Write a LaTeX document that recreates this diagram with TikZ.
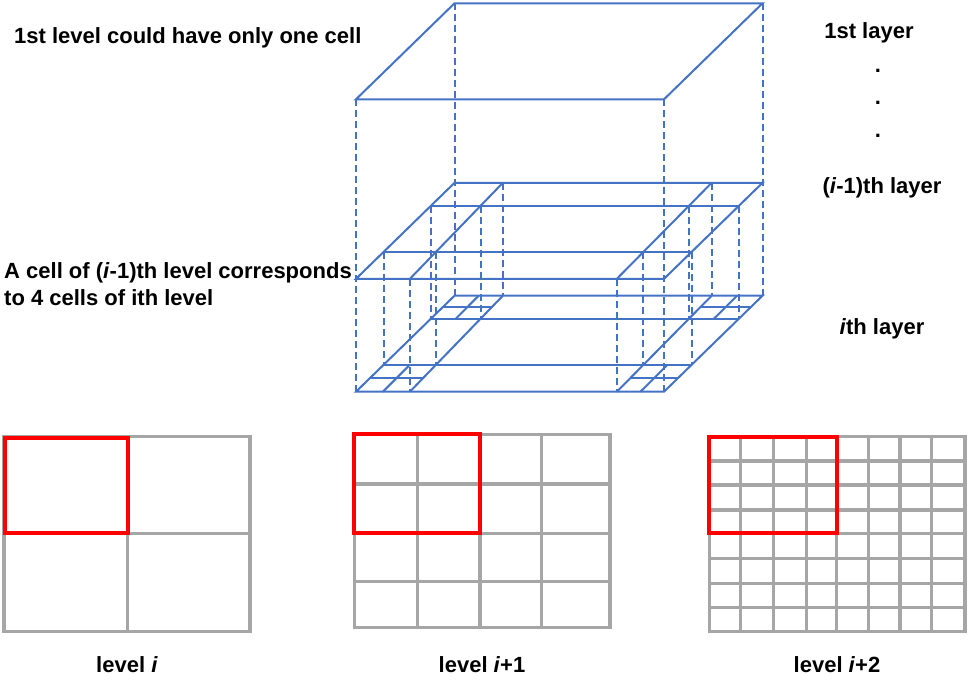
\documentclass[tikz,border=0pt]{standalone}
\usepackage{fontspec}
\setmainfont{Liberation Sans}
\definecolor{cblue}{RGB}{68,114,196}
\definecolor{cgray}{RGB}{166,166,166}
\definecolor{cred}{RGB}{255,0,0}
\begin{document}
\begin{tikzpicture}[x=1pt,y=-1pt,
  blueline/.style={draw=cblue, line width=2pt},
  bluedash/.style={draw=cblue, line width=2pt, dash pattern=on 7pt off 4pt},
  gridline/.style={draw=cgray, line width=3.2pt},
  redbox/.style={draw=cred, line width=4pt},
  lbl/.style={font=\bfseries\fontsize{22}{26}\selectfont, inner sep=0pt},
  layer/.style={shift={(356,#1)}, x={(308pt,0pt)}, y={(98.5pt,96pt)}}]
\useasboundingbox (0,0) rectangle (969,680);

% ---------- top layer ----------
\begin{scope}[layer=99.3]
  \draw[blueline] (0,0) -- (1,0) -- (1,1) -- (0,1) -- cycle;
\end{scope}

% ---------- (i-1)th layer ----------
\begin{scope}[layer=278.8]
  \draw[blueline] (0,0) -- (1,0) -- (1,1) -- (0,1) -- cycle;
  \draw[blueline] (0,0.28) -- (1,0.28);
  \draw[blueline] (0,0.76) -- (1,0.76);
  \draw[blueline] (0.175,0) -- (0.157,1);
  \draw[blueline] (0.847,0) -- (0.835,1);
\end{scope}

% ---------- ith layer ----------
\begin{scope}[layer=391.7]
  \draw[blueline] (0,0) -- (1,0) -- (1,1) -- (0,1) -- cycle;
  \draw[blueline] (0,0.28) -- (1,0.28);
  \draw[blueline] (0,0.76) -- (1,0.76);
  \draw[blueline] (0.175,0) -- (0.157,1);
  \draw[blueline] (0.847,0) -- (0.835,1);
  % front-left sub-cells
  \draw[blueline] (0,0.14) -- ({0.175-0.018*0.14},0.14);
  \draw[blueline] ({0.175/2},0) -- ({(0.175-0.018*0.28)/2},0.28);
  % back-left sub-cells
  \draw[blueline] (0,0.88) -- ({0.175-0.018*0.88},0.88);
  \draw[blueline] ({(0.175-0.018*0.76)/2},0.76) -- ({0.157/2},1);
  % front-right sub-cells
  \draw[blueline] ({0.847-0.012*0.14},0.14) -- (1,0.14);
  \draw[blueline] ({(0.847+1)/2},0) -- ({(0.847-0.012*0.28+1)/2},0.28);
  % back-right sub-cells
  \draw[blueline] ({0.847-0.012*0.88},0.88) -- (1,0.88);
  \draw[blueline] ({(0.847-0.012*0.76+1)/2},0.76) -- ({(0.835+1)/2},1);
\end{scope}

% ---------- dashed verticals ----------
\foreach \u/\v in {0/0, 1/0, 0/1, 1/1}
  \draw[bluedash] ({356+308*\u+98.5*\v},{99.3-96*\v}) -- ({356+308*\u+98.5*\v},{391.7-96*\v});
\foreach \u/\v in {0/0.28, 0/0.76, 0.175/0, 0.16996/0.28, 0.16132/0.76, 0.157/1,
                   1/0.28, 1/0.76, 0.847/0, 0.84364/0.28, 0.83788/0.76, 0.835/1}
  \draw[bluedash] ({356+308*\u+98.5*\v},{278.8-96*\v}) -- ({356+308*\u+98.5*\v},{391.7-96*\v});

% ---------- level grids ----------
% level i
\draw[gridline] (4,436.7) rectangle (250,631.7);
\draw[gridline] (127.7,436.7) -- (127.7,631.7);
\draw[gridline] (4,533.3) -- (250,533.3);
\draw[redbox] (5,437.7) rectangle (128,532.5);
% level i+1
\draw[gridline] (354.3,434.3) rectangle (610,627.3);
\foreach \x in {417.3,480,541.7} \draw[gridline] (\x,434.3) -- (\x,627.3);
\foreach \y in {484,533.3,581.7} \draw[gridline] (354.3,\y) -- (610,\y);
\draw[redbox] (354.3,434.3) rectangle (480,533.3);
% level i+2
\draw[gridline] (709.3,436.7) rectangle (965,631.7);
\foreach \x in {740.7,773.3,806.7,836.7,868.3,900,931.7} \draw[gridline] (\x,436.7) -- (\x,631.7);
\foreach \y in {461,485,510,533.3,558.3,583.3,607.7} \draw[gridline] (709.3,\y) -- (965,\y);
\draw[redbox] (709.3,436.7) rectangle (836.7,533.3);

% ---------- texts ----------
\node[lbl, anchor=base west] (t1) at (14,43.3) {1st level could have only one cell};
\node[lbl, anchor=base west] (t2a) at (4,278.3) {A cell of (\textit{i}-1)th level corresponds};
\node[lbl, anchor=base west] (t2b) at (4,305) {to 4 cells of ith level};

\node[lbl, anchor=base] (r1) at (869,38) {1st layer};
\node[lbl, anchor=base] (d1) at (878,72) {.};
\node[lbl, anchor=base] (d2) at (878,104) {.};
\node[lbl, anchor=base] (d3) at (878,137) {.};
\node[lbl, anchor=base] (r2) at (882,193) {(\textit{i}-1)th layer};
\node[lbl, anchor=base] (r3) at (882,334) {\textit{i}th layer};

\node[lbl, anchor=base] (b1) at (127,672) {level \textit{i}};
\node[lbl, anchor=base] (b2) at (482,672) {level \textit{i}+1};
\node[lbl, anchor=base] (b3) at (837,672) {level \textit{i}+2};
\end{tikzpicture}
\end{document}
